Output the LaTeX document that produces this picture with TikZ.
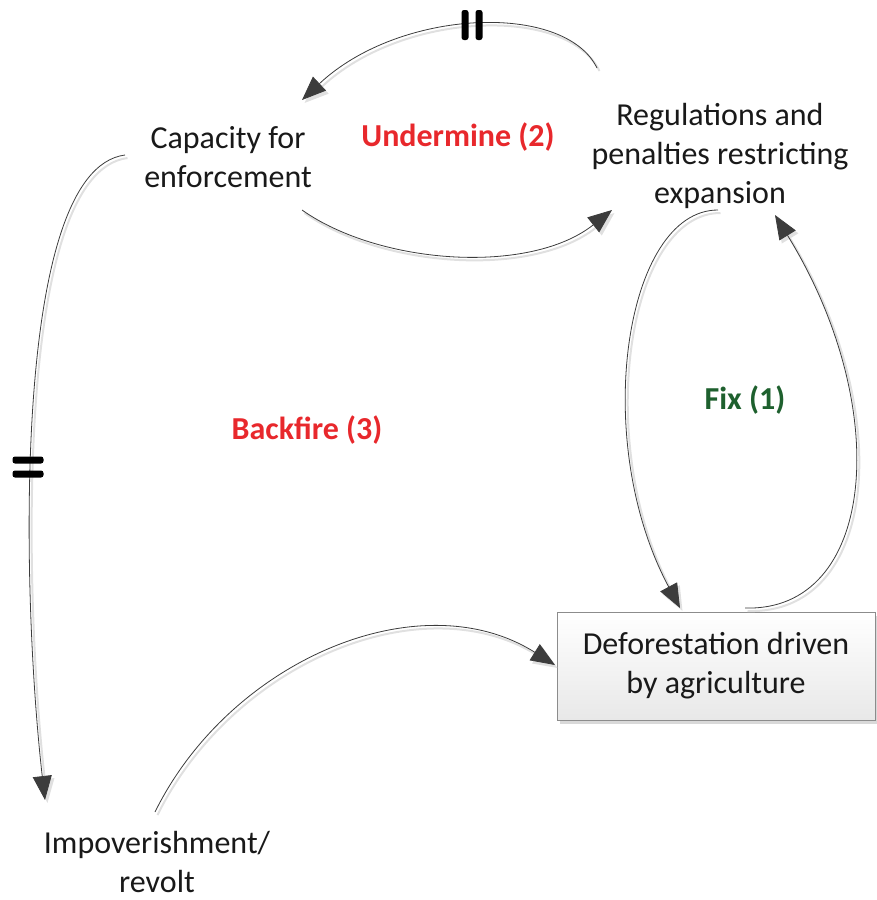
\documentclass[tikz,border=0pt]{standalone}
\usepackage{fontspec}
\setmainfont{Carlito}
\usetikzlibrary{arrows.meta}
\definecolor{loopred}{RGB}{232,40,44}
\definecolor{loopgreen}{RGB}{30,96,46}
\definecolor{linkgrey}{RGB}{60,60,60}
\tikzset{
  label text/.style={font=\fontsize{32}{39}\selectfont, align=center, text=black!90, inner sep=0pt},
  loop label/.style={font=\bfseries\fontsize{32}{36}\selectfont, inner sep=0pt},
  link/.style={draw=linkgrey, line width=0.8pt,
    -{Triangle[length=24pt,width=19pt]}, fill=none,
    preaction={draw=black!12, line width=2pt,
      transform canvas={xshift=2.5pt,yshift=-3pt}}},
  delaybar/.style={fill=black, rounded corners=2.5pt, draw=none},
  stockbox/.style={draw=black!45, line width=0.8pt, top color=white, bottom color=black!9,
    minimum width=318pt, minimum height=108pt, inner sep=0pt}
}
\begin{document}
\begin{tikzpicture}[x=1pt,y=-1pt]
\useasboundingbox (0,0) rectangle (877,900);

% variables
\node[label text] (cap) at (228,157) {Capacity for\\enforcement};
\node[label text] (reg) at (720,156) {Regulations and\\penalties restricting\\expansion};
\fill[black!15] (560,616) rectangle (879,724);
\node[stockbox] (def) at (716,666) {};
\node[label text] (deftext) at (def.center) {Deforestation driven\\by agriculture};
\node[label text] (imp) at (157,862) {Impoverishment/\\revolt};

% loop names
\node[loop label, text=loopred] (und) at (458,137) {Undermine (2)};
\node[loop label, text=loopgreen] (fix) at (745,400) {Fix (1)};
\node[loop label, text=loopred] (back) at (307,430) {Backfire (3)};

% connector end points beside the variables
\coordinate (regTL) at (597,68);
\coordinate (capTR) at (302,100);
\coordinate (capBR) at (302,210);
\coordinate (regBL) at (612,210);
\coordinate (regB)  at (718,210);
\coordinate (regBR) at (775,215);
\coordinate (defTL) at (680,608);
\coordinate (defTR) at (745,608);
\coordinate (capL)  at (125,155);
\coordinate (impT)  at (45,800);
\coordinate (impTR) at (155,812);
\coordinate (defL)  at (555,665);

% causal links
\draw[link] (regTL) .. controls (565,2) and (400,8) .. (capTR);
\draw[link] (capBR) .. controls (380,265) and (530,275) .. (regBL);
\draw[link] (regB) .. controls (625,210) and (590,440) .. (defTL);
\draw[link] (defTR) .. controls (875,612) and (895,410) .. (regBR);
\draw[link] (capL) .. controls (10,170) and (22,600) .. (impT);
\draw[link] (impTR) .. controls (230,660) and (420,580) .. (defL);

% delay marks
\node[delaybar, minimum width=7pt, minimum height=30pt] (d1a) at (465,25) {};
\node[delaybar, minimum width=7pt, minimum height=30pt] (d1b) at (479,25) {};
\node[delaybar, minimum width=31pt, minimum height=7pt] (d2a) at (28,460) {};
\node[delaybar, minimum width=31pt, minimum height=7pt] (d2b) at (28,474) {};
\end{tikzpicture}
\end{document}
